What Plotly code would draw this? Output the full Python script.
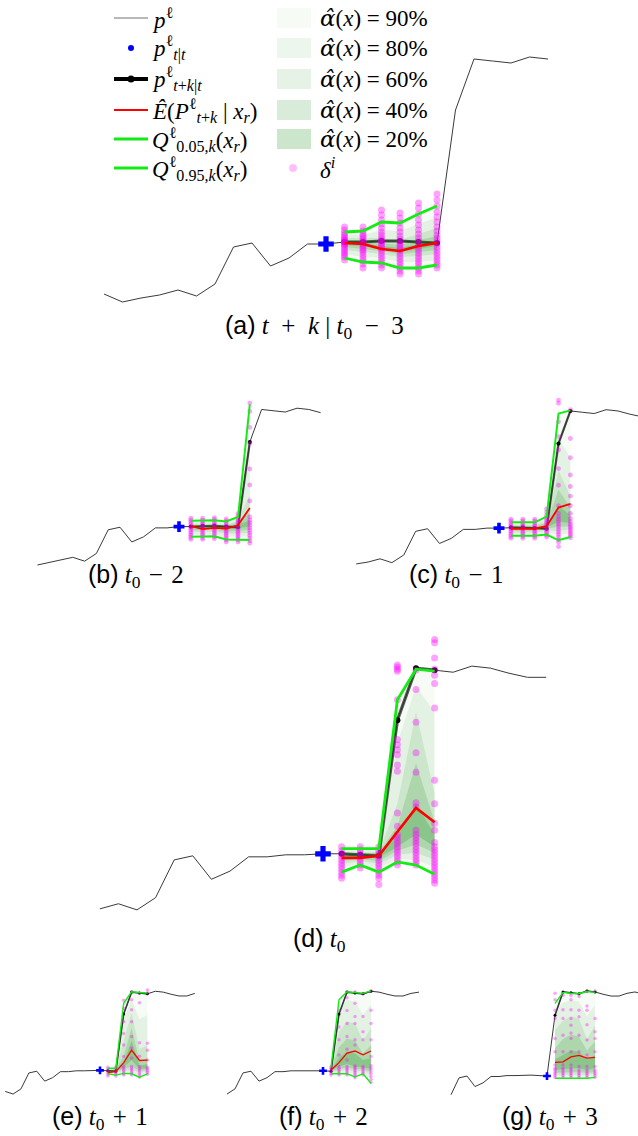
import plotly.graph_objects as go

# hours relative to t0 and the price series p (arbitrary units)
HOURS = [-15, -14, -13, -12, -11, -10, -9, -8, -7, -6, -5, -4, -3, -2, -1, 0,
         1, 2, 3, 4, 5, 6, 7, 8, 9, 10, 11, 12, 13, 14, 15]
PRICE = [8, 0, 4, 7, 12, 6, 18, 55, 59, 36, 44, 58, 58, 60, 60, 61,
         61, 60, 59, 192, 243, 241, 239, 245, 243, 238, 234, 234, 240, 243, 238]

SP = '\u2004'  # medium space around binary operators, as in TeX math
WSP = '\u2002'
PANEL_T = [-3, -2, -1, 0, 1, 2, 3]
PANEL_TAGS = ['(a)', '(b)', '(c)', '(d)', '(e)', '(f)', '(g)']
PANEL_MATH = ['<i>t</i>' + WSP + '+' + WSP + '<i>k</i>\u2005|\u2005<i>t</i><sub>0</sub>' + WSP + '−' + WSP + '3',
              '<i>t</i><sub>0</sub>' + SP + '−' + SP + '2', '<i>t</i><sub>0</sub>' + SP + '−' + SP + '1',
              '<i>t</i><sub>0</sub>', '<i>t</i><sub>0</sub>' + SP + '+' + SP + '1',
              '<i>t</i><sub>0</sub>' + SP + '+' + SP + '2', '<i>t</i><sub>0</sub>' + SP + '+' + SP + '3']

# lower edges (5, 10, 20, 30, 40 %) and upper edges (95, 90, 80, 70, 60 %) for k = 1..6
A_LO = [[44, 40, 39, 34, 34, 37], [48, 45, 44, 40, 40, 42], [52, 50, 48, 45, 46, 48],
        [55, 53, 51, 48, 50, 52], [57, 56, 53, 50, 53, 56]]
A_HI = [[70, 71, 80, 79, 88, 96], [67, 67, 72, 71, 78, 85], [64, 64, 64, 62, 68, 74],
        [62, 61, 59, 57, 62, 66], [60, 59, 56, 54, 58, 61]]
A_MEAN = [59, 58, 53, 51, 56, 59]

B_LO = [[44, 44, 45, 40, 40, 39], [47, 47, 48, 44, 45, 44], [51, 51, 52, 49, 50, 50],
        [54, 54, 55, 52, 54, 55], [57, 57, 58, 55, 58, 60]]
B_HI = [[69, 69, 70, 68, 75, 251], [67, 67, 68, 66, 72, 170], [65, 64, 65, 63, 69, 110],
        [63, 62, 63, 61, 66, 82], [61, 60, 61, 59, 63, 70]]
B_MEAN = [61, 56, 58, 57, 62, 89]

C_LO = [[48, 48, 48, 50, 41, 46], [50, 50, 50, 53, 50, 52], [53, 53, 53, 56, 56, 58],
        [56, 56, 56, 59, 62, 63], [58, 58, 58, 61, 70, 68]]
C_HI = [[69, 69, 69, 78, 239, 244], [67, 67, 67, 75, 200, 170], [65, 65, 65, 71, 150, 110],
        [63, 63, 63, 68, 120, 92], [61, 61, 61, 65, 95, 80]]
C_MEAN = [59, 59, 59, 63, 92, 98]

D_LO = [[43, 50, 43, 53, 50, 41], [47, 52, 47, 56, 55, 48], [51, 54, 51, 60, 62, 55],
        [54, 56, 54, 64, 70, 62], [56, 57, 57, 68, 80, 68]]
D_HI = [[66, 66, 66, 212, 242, 240], [65, 64, 65, 170, 225, 200], [63, 62, 63, 110, 200, 120],
        [61, 61, 62, 88, 150, 92], [59, 59, 60, 78, 110, 80]]
D_MEAN = [57, 57, 59, 82, 106, 92]

E_LO = [[53, 50, 54, 53, 45, 53], [54, 53, 56, 56, 50, 55], [56, 56, 60, 62, 56, 58],
        [58, 58, 64, 70, 60, 62], [59, 60, 68, 85, 64, 66]]
E_HI = [[66, 66, 217, 244, 242, 241], [65, 65, 180, 225, 180, 190], [63, 64, 130, 195, 110, 120],
        [62, 63, 95, 160, 82, 90], [61, 62, 80, 130, 72, 76]]
E_MEAN = [56, 58, 79, 108, 84, 85]

F_LO = [[53, 53, 53, 46, 53, 31], [55, 56, 57, 52, 56, 42], [57, 60, 62, 58, 60, 52],
        [59, 64, 68, 63, 64, 58], [60, 70, 76, 70, 68, 64]]
F_HI = [[68, 225, 244, 242, 240, 246], [66, 200, 225, 220, 190, 215], [65, 150, 175, 170, 130, 160],
        [64, 115, 135, 130, 100, 120], [62, 90, 105, 100, 85, 90]]
F_MEAN = [62, 79, 101, 106, 97, 106]

G_LO = [[54, 54, 54, 54, 54, 56], [58, 58, 58, 58, 58, 60], [62, 62, 63, 63, 62, 64],
        [66, 67, 68, 68, 66, 68], [72, 74, 76, 76, 72, 76]]
G_HI = [[218, 242, 240, 239, 244, 242], [200, 220, 225, 222, 190, 215], [160, 180, 190, 185, 140, 170],
        [120, 140, 150, 145, 115, 135], [95, 105, 115, 112, 95, 105]]
G_MEAN = [89, 90, 101, 104, 98, 100]

# scenario samples delta^i, one list per horizon k
A_DELTA = [[42, 45, 47, 49, 51, 53, 55, 57, 58, 59, 60, 61, 62, 63, 65, 67, 69, 72, 75],
           [34, 38, 41, 44, 47, 50, 52, 54, 56, 58, 60, 62, 64, 66, 68, 71, 75],
           [34, 37, 40, 43, 46, 49, 52, 54, 56, 58, 60, 62, 64, 67, 70, 74, 78, 82, 87, 92],
           [28, 31, 34, 37, 40, 43, 46, 49, 52, 54, 56, 58, 60, 63, 66, 70, 74, 79, 84, 89],
           [28, 31, 34, 37, 40, 43, 46, 49, 52, 55, 58, 61, 64, 68, 72, 77, 82, 88, 94, 99],
           [34, 37, 40, 43, 46, 49, 52, 55, 58, 61, 64, 67, 71, 75, 80, 85, 90, 96, 102, 108]]
B_DELTA = [[40, 43, 46, 49, 52, 55, 58, 61, 64, 67, 70, 73],
           [40, 43, 46, 49, 52, 55, 58, 61, 64, 67, 70, 73],
           [41, 44, 47, 50, 53, 56, 59, 62, 65, 68, 71, 74],
           [36, 39, 42, 45, 48, 51, 54, 57, 60, 63, 66, 69, 72],
           [36, 39, 42, 45, 48, 51, 54, 57, 60, 63, 66, 69, 72, 76, 80],
           [34, 38, 42, 46, 50, 54, 58, 62, 66, 70, 75, 100, 125, 150, 190, 215, 240, 253]]
C_DELTA = [[44, 47, 50, 53, 56, 59, 62, 65, 68, 71, 74],
           [44, 47, 50, 53, 56, 59, 62, 65, 68, 71, 74],
           [44, 47, 50, 53, 56, 59, 62, 65, 68, 71, 74],
           [46, 49, 52, 55, 58, 61, 64, 67, 70, 73, 76, 80, 85, 90],
           [31, 38, 42, 46, 50, 54, 58, 62, 66, 70, 74, 78, 83, 95, 127, 153, 182, 203, 226, 255, 260],
           [45, 48, 51, 54, 57, 60, 63, 66, 70, 75, 83, 95, 110, 125, 143, 170, 200, 245]]
D_DELTA = [[37, 40, 43, 46, 49, 52, 55, 58, 61, 64, 68],
           [47, 50, 53, 56, 59, 62, 65, 68],
           [31, 37, 40, 43, 46, 49, 52, 55, 58, 61, 64, 68],
           [50, 53, 56, 59, 62, 65, 68, 71, 74, 77, 80, 88, 101, 142, 148, 158, 163, 168, 173, 212,
            240, 242, 244, 246],
           [50, 53, 56, 59, 62, 65, 68, 71, 74, 77, 80, 84, 107, 111, 141, 160, 190, 222, 241],
           [32, 35, 38, 41, 44, 47, 50, 53, 56, 59, 62, 65, 68, 72, 84, 91, 110, 133, 204, 228, 236,
            242, 253, 268, 271]]
E_DELTA = [[48, 52, 56, 60, 64, 68],
           [48, 52, 56, 60, 64, 68],
           [50, 54, 58, 62, 66, 70, 93, 120, 147, 174, 205, 224],
           [50, 54, 58, 62, 66, 70, 90, 113, 140, 174, 202, 225, 244],
           [45, 50, 55, 60, 65, 70, 94, 125, 218, 241],
           [52, 56, 60, 64, 68, 85, 108, 124, 241, 248]]
F_DELTA = [[50, 54, 58, 62, 66, 70],
           [50, 54, 58, 62, 66, 70, 97, 132, 162, 201],
           [50, 54, 58, 62, 66, 70, 85, 110, 140, 170, 200, 230, 244],
           [44, 48, 52, 56, 60, 64, 68, 72, 120, 132, 170, 186, 217, 244],
           [50, 54, 58, 62, 66, 70, 132, 151, 186, 240],
           [33, 40, 47, 54, 60, 66, 72, 93, 132, 170, 201, 246]]
G_DELTA = [[56, 60, 64, 68, 72, 76, 83, 112, 141, 185, 203, 226, 240],
           [56, 60, 64, 68, 72, 76, 83, 112, 148, 185, 204, 236],
           [56, 60, 64, 68, 72, 76, 83, 112, 141, 153, 170, 185, 204, 226, 236],
           [56, 60, 64, 68, 72, 80, 112, 148, 189, 203, 233],
           [56, 60, 64, 68, 72, 80, 105, 138, 171, 203, 212, 245],
           [56, 60, 64, 68, 72, 80, 112, 141, 156, 185, 245]]

LOS = [A_LO, B_LO, C_LO, D_LO, E_LO, F_LO, G_LO]
HIS = [A_HI, B_HI, C_HI, D_HI, E_HI, F_HI, G_HI]
MEANS = [A_MEAN, B_MEAN, C_MEAN, D_MEAN, E_MEAN, F_MEAN, G_MEAN]
DELTAS = [A_DELTA, B_DELTA, C_DELTA, D_DELTA, E_DELTA, F_DELTA, G_DELTA]

BAND_LABELS = ['90%', '80%', '60%', '40%', '20%']
BAND_COLORS = ['rgba(0,128,0,0.035)', 'rgba(0,128,0,0.07)', 'rgba(0,128,0,0.1)',
               'rgba(0,128,0,0.15)', 'rgba(0,128,0,0.2)']
GREEN = 'rgb(20,235,20)'
DOT = 'rgba(255,0,255,0.36)'

W, H = 638, 1136
# panel placement in pixels: x of hour t, px per hour, y of value 0, px per unit, line scale
GEOM = [(326, 18.5, 302, 1.0, 1.0), (179, 11.8, 565, 0.64, 0.7), (499, 11.9, 566.5, 0.64, 0.7),
        (323, 18.6, 916, 1.02, 1.0), (100, 7.9, 1096.6, 0.43, 0.5), (323, 8.0, 1096.6, 0.43, 0.5),
        (547, 8.0, 1103, 0.457, 0.5)]
LABEL_POS = [(314, 327), (136, 576), (456, 576), (319, 940), (100, 1118), (323, 1118), (550, 1118)]
SERIF = 'Liberation Serif, Times New Roman, serif'

fig = go.Figure()
layout = {}
for n in range(7):
    t = PANEL_T[n]
    lo, hi, mean, delta = LOS[n], HIS[n], MEANS[n], DELTAS[n]
    x0, step, y0, sc, w = GEOM[n]
    xa = 'x' if n == 0 else 'x%d' % (n + 1)
    ya = 'y' if n == 0 else 'y%d' % (n + 1)
    ax = dict(xaxis=xa, yaxis=ya)

    i0 = HOURS.index(t)
    hx = [h for h in HOURS if t - 12 <= h <= t + 12]
    hy = [PRICE[HOURS.index(h)] for h in hx]
    kx = HOURS[i0 + 1:i0 + 7]
    ky = PRICE[i0 + 1:i0 + 7]

    fig.add_trace(go.Scatter(x=hx, y=hy, mode='lines', line=dict(color='#3a3a3a', width=1), **ax))
    fig.add_trace(go.Scatter(x=kx, y=ky, mode='lines+markers',
                             line=dict(color='rgba(45,45,45,0.8)', width=3.2 * w),
                             marker=dict(color='black', size=6 * w), **ax))
    for b in range(5):
        fig.add_trace(go.Scatter(x=kx + kx[::-1], y=lo[b] + hi[b][::-1], mode='lines',
                                 fill='toself', fillcolor=BAND_COLORS[b],
                                 line=dict(width=0), **ax))
    sx, sy = [], []
    for k, vals in enumerate(delta):
        sx += [kx[k]] * len(vals)
        sy += vals
    fig.add_trace(go.Scatter(x=sx, y=sy, mode='markers',
                             marker=dict(color=DOT, size=7 * w, line=dict(width=0)), **ax))
    fig.add_trace(go.Scatter(x=kx, y=mean, mode='lines', line=dict(color='red', width=2.6 * w), **ax))
    fig.add_trace(go.Scatter(x=kx, y=lo[0], mode='lines', line=dict(color=GREEN, width=2.8 * w), **ax))
    fig.add_trace(go.Scatter(x=kx, y=hi[0], mode='lines', line=dict(color=GREEN, width=2.8 * w), **ax))
    fig.add_trace(go.Scatter(x=[t], y=[PRICE[i0]], mode='markers',
                             marker=dict(symbol='cross', color='blue', size=13 * w,
                                         line=dict(width=0)), **ax))

    xname = 'xaxis' if n == 0 else 'xaxis%d' % (n + 1)
    yname = 'yaxis' if n == 0 else 'yaxis%d' % (n + 1)
    layout[xname] = dict(domain=[0, 1], range=[t - x0 / step, t + (W - x0) / step],
                         visible=False, anchor=ya)
    layout[yname] = dict(domain=[0, 1], range=[(y0 - H) / sc, y0 / sc],
                         visible=False, anchor=xa)


def px_x(v):
    return v / W


def px_y(v):
    return 1 - v / H


annotations = []
shapes = []
for n in range(7):
    px, py = LABEL_POS[n]
    annotations.append(dict(
        x=px_x(px), y=px_y(py), xref='paper', yref='paper', showarrow=False,
        xanchor='center', yanchor='middle',
        text='<span style="font-family:Liberation Sans">%s</span> %s' % (PANEL_TAGS[n], PANEL_MATH[n]),
        font=dict(family=SERIF, size=25, color='black')))

# legend, drawn by hand in two columns
LEG_ROWS = [18, 48, 79, 110, 139, 168]
LEG_LEFT = ['<i>p</i><sup>ℓ</sup>', '<i>p</i><sup>ℓ</sup><sub><i>t</i>|<i>t</i></sub>',
            '<i>p</i><sup>ℓ</sup><sub><i>t</i>+<i>k</i>|<i>t</i></sub>',
            '<i>Ê</i>(<i>P</i><sup>ℓ</sup><sub><i>t</i>+<i>k</i></sub> | <i>x<sub>r</sub></i>)',
            '<i>Q</i><sup>ℓ</sup><sub>0.05,<i>k</i></sub>(<i>x<sub>r</sub></i>)',
            '<i>Q</i><sup>ℓ</sup><sub>0.95,<i>k</i></sub>(<i>x<sub>r</sub></i>)']
ALPHA_HAT = '<span style="font-family:DejaVu Serif"><i>α̂</i></span>'

for r, txt in enumerate(LEG_LEFT):
    annotations.append(dict(x=px_x(150), y=px_y(LEG_ROWS[r]), xref='paper', yref='paper',
                            showarrow=False, xanchor='left', yanchor='middle', text=txt,
                            font=dict(family=SERIF, size=23, color='black')))
for r, lab in enumerate(BAND_LABELS + [None]):
    txt = ALPHA_HAT + '(<i>x</i>) = ' + lab if lab else '<i>δ<sup>i</sup></i>'
    annotations.append(dict(x=px_x(318), y=px_y(LEG_ROWS[r]), xref='paper', yref='paper',
                            showarrow=False, xanchor='left', yanchor='middle', text=txt,
                            font=dict(family=SERIF, size=23, color='black')))
    if lab:
        shapes.append(dict(type='rect', xref='paper', yref='paper', x0=px_x(277), x1=px_x(311),
                           y0=px_y(LEG_ROWS[r] - 10), y1=px_y(LEG_ROWS[r] + 10),
                           fillcolor=BAND_COLORS[r], line=dict(width=0)))
    else:
        shapes.append(dict(type='circle', xref='paper', yref='paper', x0=px_x(289), x1=px_x(297),
                           y0=px_y(LEG_ROWS[r] - 4), y1=px_y(LEG_ROWS[r] + 4),
                           fillcolor='rgba(255,0,255,0.25)', line=dict(width=0)))


def leg_line(row, color, width):
    shapes.append(dict(type='line', xref='paper', yref='paper', x0=px_x(114), x1=px_x(148),
                       y0=px_y(LEG_ROWS[row]), y1=px_y(LEG_ROWS[row]),
                       line=dict(color=color, width=width)))


def leg_dot(row, color, r):
    shapes.append(dict(type='circle', xref='paper', yref='paper', x0=px_x(131 - r), x1=px_x(131 + r),
                       y0=px_y(LEG_ROWS[row] - r), y1=px_y(LEG_ROWS[row] + r),
                       fillcolor=color, line=dict(width=0)))


leg_line(0, '#a0a0a0', 1.5)
leg_dot(1, 'blue', 3)
leg_line(2, 'black', 4)
leg_dot(2, 'black', 3.5)
leg_line(3, 'red', 2.2)
leg_line(4, GREEN, 2.8)
leg_line(5, GREEN, 2.8)

fig.update_layout(width=W, height=H, margin=dict(l=0, r=0, t=0, b=0), showlegend=False,
                  paper_bgcolor='white', plot_bgcolor='rgba(0,0,0,0)',
                  annotations=annotations, shapes=shapes, **layout)
fig.write_html("out.html", config={'displayModeBar': False},
               post_script="document.body.style.margin = '0';")
